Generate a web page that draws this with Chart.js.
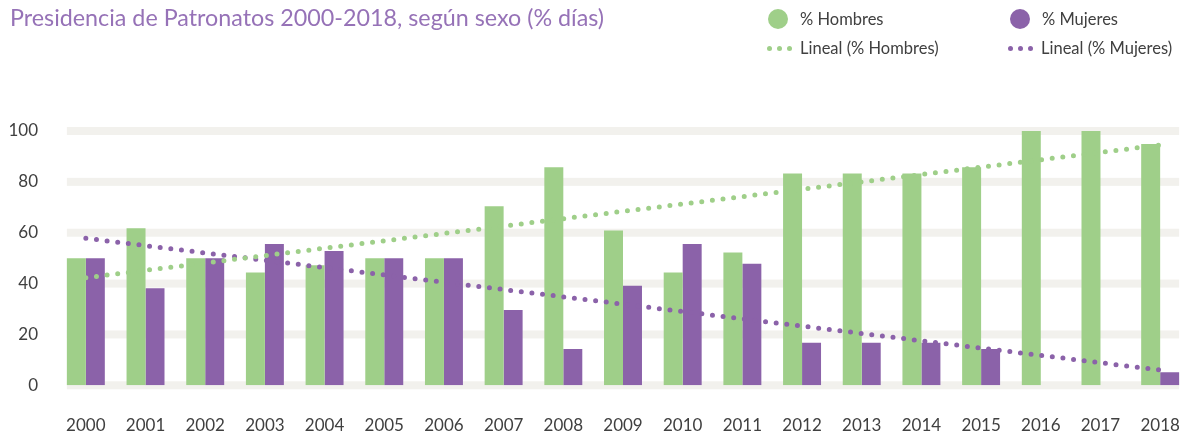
<!DOCTYPE html>
<html lang="es">
<head>
<meta charset="utf-8">
<title>Presidencia de Patronatos 2000-2018</title>
<script src="https://cdn.jsdelivr.net/npm/chart.js@4.4.1/dist/chart.umd.min.js"></script>
<style>
  body { margin: 0; background: #fff; font-family: Lato, "Open Sans", sans-serif; }
  #wrap { position: relative; width: 1190px; height: 431px; overflow: hidden; }
  #chart { position: absolute; left: 0; top: 0; }
  #title { position: absolute; left: 10px; top: 3px; font-size: 23.3px; color: #9672b7; white-space: nowrap; }
  .lg { position: absolute; height: 20px; line-height: 20px; font-size: 16.5px; color: #404040; white-space: nowrap; }
  .lg .dot { position: absolute; left: 0; top: 0; width: 20px; height: 20px; border-radius: 50%; }
  .lg .dots { position: absolute; left: 0; top: 8px; display: flex; }
  .lg .dots i { display: block; width: 5px; height: 5px; border-radius: 50%; margin-right: 5px; }
  .lg span { position: absolute; left: 32px; top: 0; }
  .lg.line span { left: 33px; }
</style>
</head>
<body>
<div id="wrap">
  <canvas id="chart" width="1190" height="431"></canvas>
  <div id="title">Presidencia de Patronatos 2000-2018, según sexo (% días)</div>
  <div id="legend"></div>
</div>
<script>
// Datos
var years = ['2000', '2001', '2002', '2003', '2004', '2005', '2006', '2007', '2008', '2009',
             '2010', '2011', '2012', '2013', '2014', '2015', '2016', '2017', '2018'];
var hombres = [50, 61.8, 50, 44.4, 47.2, 50, 50, 70.4, 85.7, 60.9,
               44.4, 52.2, 83.3, 83.3, 83.3, 85.7, 100, 100, 94.9];
var mujeres = [50, 38.2, 50, 55.6, 52.8, 50, 50, 29.6, 14.3, 39.1,
               55.6, 47.8, 16.7, 16.7, 16.7, 14.3, 0, 0, 5.1];
// tendencia lineal: extremos
var linealHombres = [42.3, null, null, null, null, null, null, null, null, null,
                     null, null, null, null, null, null, null, null, 94.5];
var linealMujeres = [57.8, null, null, null, null, null, null, null, null, null,
                     null, null, null, null, null, null, null, null, 6.0];
var yTicks = [0, 20, 40, 60, 80, 100];

var green = '#9fcf89';
var purple = '#8b62a9';
var barShare = 0.636;

// franjas grises de la cuadricula
var bandPlugin = {
    id: 'bands',
    beforeDatasetsDraw: function (chart) {
        var ctx = chart.ctx, x = chart.scales.x, y = chart.scales.y;
        var cat = x.getPixelForValue(1) - x.getPixelForValue(0);
        var left = x.getPixelForValue(0) - cat * barShare / 2;
        var right = x.getPixelForValue(years.length - 1) + cat * barShare / 2;
        ctx.save();
        ctx.fillStyle = '#f2f1ed';
        yTicks.forEach(function (v) {
            var py = y.getPixelForValue(v);
            ctx.fillRect(left, py - 4, right - left, 8);
        });
        ctx.restore();
    }
};

// leyenda en HTML, 2 columnas
var legendPos = [[768, 9], [1010, 9], [767, 38], [1008, 38]];
var htmlLegend = {
    id: 'htmlLegend',
    afterInit: function (chart) {
        var box = document.getElementById('legend');
        chart.data.datasets.forEach(function (ds, i) {
            var item = document.createElement('div');
            item.className = ds.type === 'line' ? 'lg line' : 'lg';
            item.style.left = legendPos[i][0] + 'px';
            item.style.top = legendPos[i][1] + 'px';
            var icon;
            if (ds.type === 'line') {
                var d = '<i style="background:' + ds.borderColor + '"></i>';
                icon = '<div class="dots">' + d + d + d + '</div>';
            } else {
                icon = '<div class="dot" style="background:' + ds.backgroundColor + '"></div>';
            }
            item.innerHTML = icon + '<span>' + ds.label + '</span>';
            box.appendChild(item);
        });
    }
};

var ctx = document.getElementById('chart').getContext('2d');
var chart = new Chart(ctx, {
    type: 'bar',
    data: {
        labels: years,
        datasets: [{
            label: '% Hombres',
            data: hombres,
            backgroundColor: green,
            order: 2
        }, {
            label: '% Mujeres',
            data: mujeres,
            backgroundColor: purple,
            order: 2
        }, {
            type: 'line',
            label: 'Lineal (% Hombres)',
            data: linealHombres,
            borderColor: green,
            borderWidth: 5,
            borderDash: [0, 10.7],
            borderCapStyle: 'round',
            spanGaps: true,
            pointRadius: 0,
            order: 1
        }, {
            type: 'line',
            label: 'Lineal (% Mujeres)',
            data: linealMujeres,
            borderColor: purple,
            borderWidth: 5,
            borderDash: [0, 10.7],
            borderCapStyle: 'round',
            spanGaps: true,
            pointRadius: 0,
            order: 1
        }]
    },
    options: {
        responsive: false,
        animation: false,
        layout: { autoPadding: false, padding: { top: 131, right: 0, left: 0, bottom: 0 } },
        datasets: {
            bar: { categoryPercentage: barShare, barPercentage: 1 }
        },
        plugins: {
            legend: { display: false },
            tooltip: { enabled: false }
        },
        scales: {
            x: {
                grid: { display: false, drawTicks: false },
                border: { display: false },
                afterFit: function (s) { s.height = 45.7; s.paddingLeft = 0; s.paddingRight = 0; },
                ticks: { color: '#404040', font: { family: 'Lato', size: 17 }, padding: 30, maxRotation: 0, autoSkip: false }
            },
            y: {
                min: 0,
                max: 100,
                grid: { display: false, drawTicks: false },
                border: { display: false },
                afterFit: function (s) { s.width = 56; },
                afterBuildTicks: function (s) { s.ticks = yTicks.map(function (v) { return { value: v }; }); },
                ticks: { color: '#404040', font: { family: 'Lato', size: 17 }, padding: 18 }
            }
        }
    },
    plugins: [bandPlugin, htmlLegend]
});
</script>
</body>
</html>
